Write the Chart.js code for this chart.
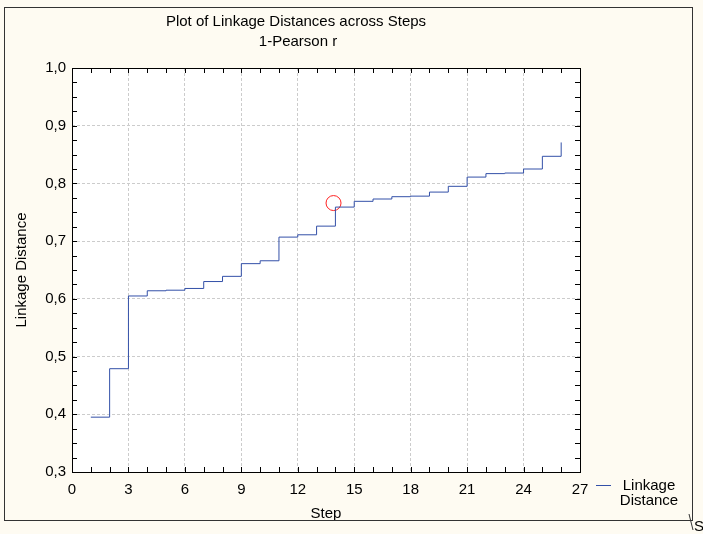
<!DOCTYPE html>
<html>
<head>
<meta charset="utf-8">
<script src="https://cdn.jsdelivr.net/npm/chart.js@4/dist/chart.umd.min.js"></script>
<style>
  html, body { margin: 0; padding: 0; background: #fefbf2; }
  #wrap { width: 703px; height: 534px; position: relative; }
</style>
</head>
<body>
<div id="wrap"><canvas id="linkChart" width="703" height="534"></canvas></div>
<script>
//データ
const steps = [1, 2, 3, 4, 5, 6, 7, 8, 9, 10, 11, 12, 13, 14, 15, 16, 17, 18, 19, 20, 21, 22, 23, 24, 25, 26];
const linkage = [0.395, 0.479, 0.605, 0.614, 0.615, 0.618, 0.630, 0.639, 0.661, 0.666, 0.707, 0.711, 0.726,
  0.759, 0.769, 0.773, 0.777, 0.778, 0.785, 0.795, 0.811, 0.817, 0.818, 0.825, 0.847, 0.871];
const xTickLabels = ['0', '3', '6', '9', '12', '15', '18', '21', '24', '27'];
const yTickLabels = ['0,3', '0,4', '0,5', '0,6', '0,7', '0,8', '0,9', '1,0'];
const marked = [13.9, 0.766]; // 赤い丸

const FONT = "'Liberation Sans', Arial, sans-serif";
Chart.defaults.font.family = FONT;
Chart.defaults.font.size = 15;
Chart.defaults.color = '#000';

const seriesColor = '#3350a8';

//背景・枠・目盛り・凡例を描く
const decorations = {
  id: 'decorations',
  beforeDraw(chart) {
    const ctx = chart.ctx;
    const a = chart.chartArea;
    ctx.save();
    ctx.fillStyle = '#fefbf2';
    ctx.fillRect(0, 0, chart.width, chart.height);
    ctx.fillStyle = '#ffffff';
    ctx.fillRect(a.left, a.top, a.right - a.left, a.bottom - a.top);
    ctx.restore();
  },
  afterDraw(chart) {
    const ctx = chart.ctx;
    const a = chart.chartArea;
    const xs = chart.scales.x;
    const ys = chart.scales.y;
    ctx.save();
    // 外枠
    ctx.strokeStyle = '#333';
    ctx.lineWidth = 1;
    ctx.strokeRect(4.5, 7.5, 688, 513);
    ctx.beginPath();
    ctx.moveTo(689, 514);
    ctx.lineTo(693, 530);
    ctx.stroke();
    ctx.fillStyle = '#000';
    ctx.font = '15px ' + FONT;
    ctx.textAlign = 'left';
    ctx.textBaseline = 'alphabetic';
    ctx.fillText('S', 694, 531);

    // プロット枠
    ctx.strokeStyle = '#000';
    ctx.strokeRect(Math.round(a.left) + 0.5, Math.round(a.top) + 0.5,
      Math.round(a.right - a.left), Math.round(a.bottom - a.top));

    // 内向きの目盛り
    ctx.beginPath();
    for (let v = xs.min; v <= xs.max; v++) {
      const px = Math.round(xs.getPixelForValue(v)) + 0.5;
      ctx.moveTo(px, a.bottom); ctx.lineTo(px, a.bottom - 5);
      ctx.moveTo(px, a.top); ctx.lineTo(px, a.top + 5);
    }
    for (let i = 0; i <= 28; i++) {
      const v = ys.min + i * 0.025;
      const py = Math.round(ys.getPixelForValue(v)) + 0.5;
      ctx.moveTo(a.left, py); ctx.lineTo(a.left + 5, py);
      ctx.moveTo(a.right, py); ctx.lineTo(a.right - 5, py);
    }
    ctx.stroke();

    // タイトル
    ctx.textAlign = 'center';
    ctx.textBaseline = 'middle';
    ctx.fillText('Plot of Linkage Distances across Steps', 296, 22);
    ctx.fillText('1-Pearson r', 298, 42);

    // 凡例
    const ds = chart.data.datasets[0];
    ctx.strokeStyle = ds.borderColor;
    ctx.beginPath();
    ctx.moveTo(596, 485.5);
    ctx.lineTo(611, 485.5);
    ctx.stroke();
    const words = ds.label.split(' ');
    ctx.fillText(words[0], 649, 486);
    ctx.fillText(words[1], 649, 501);
    ctx.restore();
  }
};

const ctx = document.getElementById('linkChart');
const linkChart = new Chart(ctx, {
  type: 'line',
  data: {
    datasets: [
      {
        label: 'Linkage Distance',
        data: steps.map((s, i) => ({ x: s, y: linkage[i] })),
        borderColor: seriesColor,
        borderWidth: 1,
        stepped: 'before',
        pointRadius: 0,
        fill: false,
      },
      {
        label: 'marked',
        data: [{ x: marked[0], y: marked[1] }],
        showLine: false,
        pointStyle: 'circle',
        pointRadius: 7.5,
        pointBorderWidth: 1,
        pointBorderColor: '#ff2020',
        pointBackgroundColor: 'rgba(0,0,0,0)',
      },
    ],
  },
  plugins: [decorations],
  options: {
    responsive: false,
    animation: false,
    layout: { padding: { top: 68, right: 123, left: 0, bottom: 0 } },
    plugins: {
      legend: { display: false },
      title: { display: false },
      tooltip: { enabled: false },
    },
    scales: {
      x: {
        type: 'linear',
        min: 0,
        max: 27,
        afterFit(scale) { scale.height = 62; },
        ticks: {
          stepSize: 3,
          padding: 9,
          maxRotation: 0,
          callback: function (value, index) { return xTickLabels[index]; },
        },
        grid: { color: '#cccccc', lineWidth: 1, drawTicks: false },
        border: { display: false, dash: [3, 2] },
        title: { display: true, text: 'Step', padding: { top: 0, bottom: 11 } },
      },
      y: {
        min: 0.3,
        max: 1.0,
        afterFit(scale) { scale.width = 72; },
        ticks: {
          stepSize: 0.1,
          padding: 6,
          callback: function (value, index) { return yTickLabels[index]; },
        },
        grid: { color: '#cccccc', lineWidth: 1, drawTicks: false },
        border: { display: false, dash: [3, 2] },
        title: { display: true, text: 'Linkage Distance', padding: { top: 13, bottom: 0 } },
      },
    },
  },
});
</script>
</body>
</html>
